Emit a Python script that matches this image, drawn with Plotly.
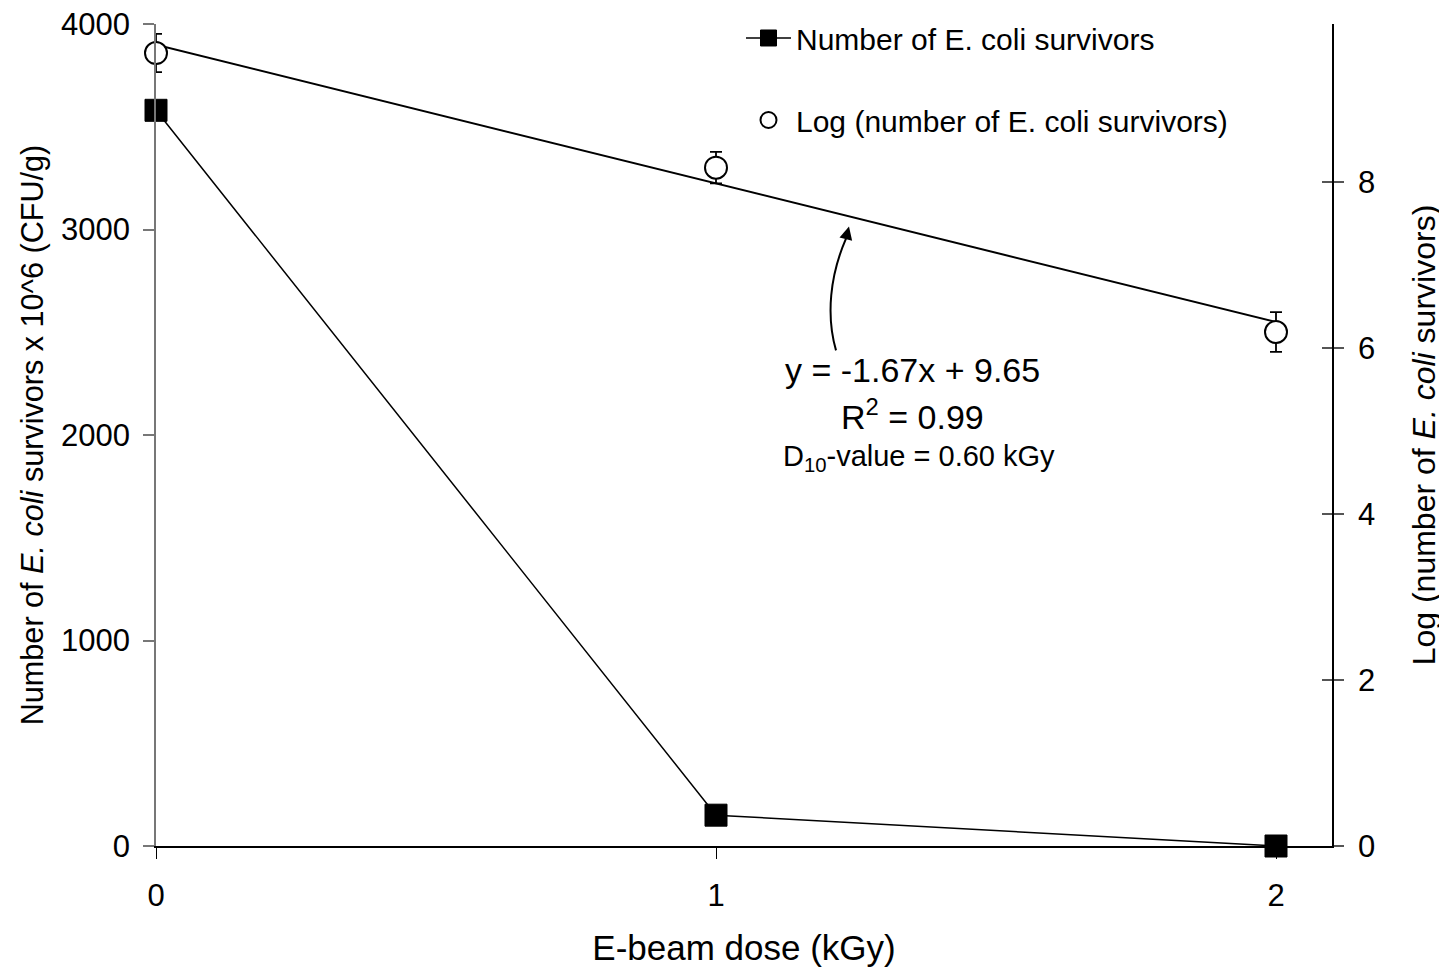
import plotly.graph_objects as go

# ---- data ----
dose_kgy = [0, 1, 2]
survivors_e6 = [3580, 150, 0]              # Number of E. coli survivors x 10^6 (CFU/g)
log_survivors = [9.55, 8.17, 6.19]          # Log(number of survivors)
log_err = [0.23, 0.19, 0.24]
trend_x = [0, 2]
trend_y = [9.65, 6.31]                      # y = -1.67x + 9.65
left_ticks = [0, 1000, 2000, 3000, 4000]
right_ticks = [0, 2, 4, 6, 8]
x_ticks = [0, 1, 2]

FONT = "Arial, Liberation Sans, sans-serif"

fig = go.Figure()

fig.add_trace(go.Scatter(
    x=dose_kgy, y=survivors_e6, mode="lines+markers",
    name="Number of E. coli survivors",
    line=dict(color="black", width=1.5),
    marker=dict(symbol="square", size=22, color="black", line=dict(color="black", width=1)),
    legendgroup="a", yaxis="y", cliponaxis=False,
))

fig.add_trace(go.Scatter(
    x=trend_x, y=trend_y, mode="lines", showlegend=False,
    line=dict(color="black", width=2), yaxis="y2", hoverinfo="skip", cliponaxis=False,
))

fig.add_trace(go.Scatter(
    x=dose_kgy, y=log_survivors, mode="markers",
    name="Log (number of E. coli survivors)",
    marker=dict(symbol="circle", size=22, color="white", line=dict(color="black", width=2)),
    error_y=dict(type="data", array=log_err, color="black", thickness=1.8, width=6),
    legendgroup="b", yaxis="y2", cliponaxis=False,
))

tickfont = dict(family=FONT, size=31, color="black")

# the page body adds an 8px offset, so the figure is 8px smaller on each axis
fig.update_layout(
    width=1439, height=964,
    margin=dict(l=148, r=115, t=16, b=126, autoexpand=False),
    paper_bgcolor="white", plot_bgcolor="white",
    font=dict(family=FONT, color="black"),
    showlegend=True,
    legend=dict(
        x=(741 - 156) / 1176, xanchor="left", y=1.0146, yanchor="top",
        font=dict(family=FONT, size=30, color="black"),
        bgcolor="rgba(0,0,0,0)", traceorder="grouped", tracegroupgap=40,
        itemsizing="trace", itemwidth=45,
    ),
    xaxis=dict(
        range=[0, 2.1], tickvals=x_ticks, ticks="outside", ticklen=11, tickwidth=1,
        tickcolor="black", showline=True, linecolor="black", linewidth=1.5,
        showgrid=False, zeroline=False, tickfont=tickfont, ticklabelstandoff=10,
        automargin=False, ticklabeloverflow="allow",
        title=dict(text="E-beam dose (kGy)", font=dict(family=FONT, size=35, color="black"), standoff=24),
    ),
    yaxis=dict(
        range=[0, 4000], tickvals=left_ticks, ticks="outside", ticklen=11, tickwidth=1.5,
        tickcolor="#777", showline=True, linecolor="#777", linewidth=1.5,
        showgrid=False, zeroline=False, tickfont=tickfont, ticklabelstandoff=7,
        automargin=False, ticklabeloverflow="allow",
        title=dict(text="Number of <i>E. coli</i> survivors x 10^6 (CFU/g)",
                   font=dict(family=FONT, size=30.6, color="black"), standoff=8),
    ),
    yaxis2=dict(
        range=[0, 9.9], tickvals=right_ticks, overlaying="y", side="right", anchor="x",
        ticks="outside", ticklen=10, tickwidth=1.5, tickcolor="#555",
        showline=True, linecolor="black", linewidth=1.5,
        showgrid=False, zeroline=False, tickfont=tickfont, ticklabelstandoff=8,
        automargin=False, ticklabeloverflow="allow",
        title=dict(text="Log (number of <i>E. coli</i> survivors)",
                   font=dict(family=FONT, size=32, color="black"), standoff=38),
    ),
    yaxis3=dict(
        range=[0, 9.9], tickvals=right_ticks, overlaying="y", side="right", anchor="x",
        ticks="inside", ticklen=10, tickwidth=1.5, tickcolor="#555",
        showticklabels=False, showline=False, showgrid=False, zeroline=False,
        automargin=False,
    ),
)

# dummy trace to activate yaxis3 (crossing ticks on the right axis)
fig.add_trace(go.Scatter(x=[None], y=[None], yaxis="y3", showlegend=False, hoverinfo="skip"))

# curved arrow pointing at the regression line
fig.add_shape(
    type="path", xref="x", yref="y2",
    path="M 1.2143,5.969 C 1.1964,6.390 1.2036,6.871 1.2321,7.316",
    line=dict(color="black", width=2),
)
fig.add_annotation(
    x=1.2375, y=7.461, xref="x", yref="y2",
    ax=1.2321, ay=7.316, axref="x", ayref="y2",
    showarrow=True, arrowhead=2, arrowsize=1.3, arrowwidth=2, arrowcolor="black", text="",
)

ann_font = dict(family=FONT, size=34, color="black")
fig.add_annotation(x=1.35, y=5.73, xref="x", yref="y2", showarrow=False,
                   text="y = -1.67x + 9.65", font=ann_font)
fig.add_annotation(x=1.35, y=5.2, xref="x", yref="y2", showarrow=False,
                   text="R<sup>2</sup> = 0.99", font=ann_font)
fig.add_annotation(x=1.363, y=4.67, xref="x", yref="y2", showarrow=False,
                   text="D<sub>10</sub>-value = 0.60 kGy", font=dict(family=FONT, size=29, color="black"))

fig.write_html("out.html")
